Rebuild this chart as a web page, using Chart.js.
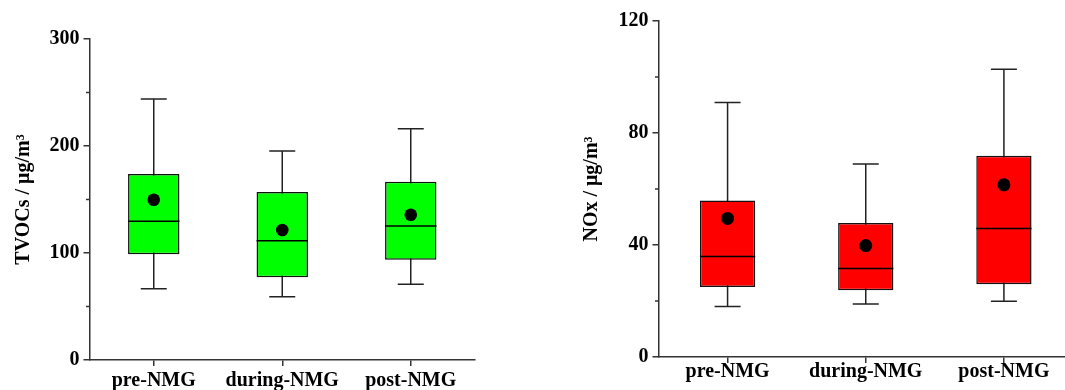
<!DOCTYPE html>
<html>
<head>
<meta charset="utf-8">
<script src="https://cdn.jsdelivr.net/npm/chart.js@4.4.1/dist/chart.umd.min.js"></script>
<style>
  html, body { margin: 0; padding: 0; background: #fff; overflow: hidden; }
  #wrapL { position: absolute; left: 0; top: 0; width: 540px; height: 390px; }
  #wrapR { position: absolute; left: 540px; top: 0; width: 545px; height: 390px; }
</style>
</head>
<body>
<div id="wrapL"><canvas id="tvoc" width="540" height="390"></canvas></div>
<div id="wrapR"><canvas id="nox" width="545" height="390"></canvas></div>
<script>
const groups = ['pre-NMG', 'during-NMG', 'post-NMG'];

// TVOCs (µg/m3) box stats
const tvocMin  = [66.7, 59.2, 70.7];
const tvocQ1   = [98.8, 77.3, 93.8];
const tvocMed  = [129.6, 111.5, 125.2];
const tvocQ3   = [173.8, 157.0, 166.7];
const tvocMax  = [243.9, 195.3, 216.2];
const tvocMean = [149.8, 121.5, 135.8];

// NOx (µg/m3)
const noxMin  = [18.0, 18.9, 19.9];
const noxQ1   = [25.0, 23.8, 26.0];
const noxMed  = [35.9, 31.6, 45.9];
const noxQ3   = [55.9, 47.9, 71.9];
const noxMax  = [90.9, 68.9, 102.8];
const noxMean = [49.5, 39.8, 61.5];

// axis ticks
const tvocMajor = [0, 100, 200, 300];
const tvocMinor = [50, 150, 250];
const noxMajor  = [0, 40, 80, 120];
const noxMinor  = [20, 60, 100];

const FONT = "'Liberation Serif', 'Times New Roman', serif";
const AXIS = '#333';

// whiskers, medians and minor ticks drawn through the chart's scales
const boxParts = {
  id: 'boxParts',
  beforeDatasetsDraw(chart, args, o) {
    const ctx = chart.ctx, x = chart.scales.x, y = chart.scales.y;
    ctx.save();
    ctx.strokeStyle = '#222';
    ctx.lineWidth = 1.5;
    o.min.forEach((v, i) => {
      const cx = x.getPixelForValue(i);
      const y0 = y.getPixelForValue(v), y1 = y.getPixelForValue(o.max[i]);
      ctx.beginPath();
      ctx.moveTo(cx, y0); ctx.lineTo(cx, y1);
      ctx.moveTo(cx - 13, y0); ctx.lineTo(cx + 13, y0);
      ctx.moveTo(cx - 13, y1); ctx.lineTo(cx + 13, y1);
      ctx.stroke();
    });
    // minor ticks
    ctx.strokeStyle = AXIS;
    ctx.beginPath();
    o.minor.forEach(v => {
      const py = y.getPixelForValue(v);
      ctx.moveTo(y.right - 3.5, py); ctx.lineTo(y.right, py);
    });
    ctx.stroke();
    ctx.restore();
  },
  afterDatasetDraw(chart, args, o) {
    if (args.meta.type !== 'bar') return;
    const ctx = chart.ctx, x = chart.scales.x, y = chart.scales.y;
    ctx.save();
    ctx.strokeStyle = '#000';
    ctx.lineWidth = 1.5;
    args.meta.data.forEach((bar, i) => {
      const py = y.getPixelForValue(o.med[i]);
      ctx.beginPath();
      ctx.moveTo(bar.x - bar.width / 2, py);
      ctx.lineTo(bar.x + bar.width / 2, py);
      ctx.stroke();
    });
    ctx.restore();
  }
};

function makeBox(id, cfg) {
  return new Chart(document.getElementById(id), {
    type: 'bar',
    data: {
      labels: groups,
      datasets: [{
        type: 'bar',
        data: cfg.q1.map((v, i) => [v, cfg.q3[i]]),
        backgroundColor: cfg.color,
        borderColor: '#111',
        borderWidth: 1.5,
        borderSkipped: false,
        categoryPercentage: 1,
        barPercentage: 0.4,
        order: 2
      }, {
        type: 'line',
        data: cfg.mean,
        showLine: false,
        pointRadius: cfg.dot,
        pointBackgroundColor: '#000',
        pointBorderColor: '#000',
        pointBorderWidth: 0,
        order: 1
      }]
    },
    plugins: [boxParts],
    options: {
      responsive: false,
      animation: false,
      layout: { padding: cfg.pad },
      plugins: {
        legend: { display: false },
        tooltip: { enabled: false },
        boxParts: { min: cfg.min, max: cfg.max, med: cfg.med, minor: cfg.minor }
      },
      scales: {
        x: {
          offset: true,
          grid: { display: true, drawOnChartArea: false, offset: false, tickLength: cfg.xTick, color: AXIS, lineWidth: 1.5 },
          border: { display: true, color: AXIS, width: 1.5 },
          ticks: { color: '#000', padding: cfg.xPad, font: { family: FONT, size: 20, weight: 'bold' } },
          afterFit: s => { s.height = cfg.xH; }
        },
        y: {
          min: cfg.major[0],
          max: cfg.major[cfg.major.length - 1],
          afterBuildTicks: s => { s.ticks = cfg.major.map(v => ({ value: v })); },
          grid: { display: true, drawOnChartArea: false, tickLength: 6, color: AXIS, lineWidth: 1.5 },
          border: { display: true, color: AXIS, width: 1.5 },
          ticks: { color: '#000', padding: 4, font: { family: FONT, size: 20, weight: 'bold' } },
          title: {
            display: true,
            text: cfg.title,
            color: '#000',
            padding: { top: cfg.titlePad, bottom: 0 },
            font: { family: FONT, size: 20, weight: 'bold' }
          },
          afterFit: s => { s.width = cfg.yW; }
        }
      }
    }
  });
}

makeBox('tvoc', {
  q1: tvocQ1, q3: tvocQ3, med: tvocMed, min: tvocMin, max: tvocMax, mean: tvocMean,
  major: tvocMajor, minor: tvocMinor,
  color: '#00ff00', dot: 6.3, title: 'TVOCs / μg/m³',
  pad: { left: 0, top: 39, right: 65, bottom: 0 },
  yW: 89.5, xH: 30, xTick: 6, xPad: 3, titlePad: 12
});

makeBox('nox', {
  q1: noxQ1, q3: noxQ3, med: noxMed, min: noxMin, max: noxMax, mean: noxMean,
  major: noxMajor, minor: noxMinor,
  color: '#ff0000', dot: 6.5, title: 'NOx / μg/m³',
  pad: { left: 0, top: 21, right: 12, bottom: 0 },
  yW: 118.5, xH: 33, xTick: 6, xPad: -3, titlePad: 40
});
</script>
</body>
</html>
